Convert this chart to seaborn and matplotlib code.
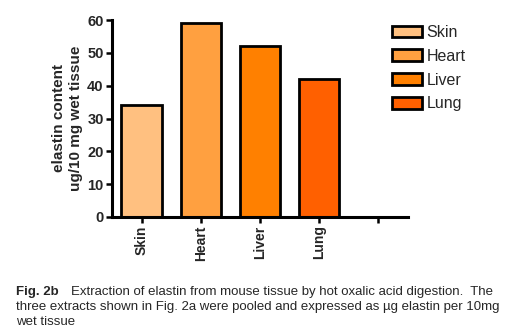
import matplotlib
matplotlib.use("Agg")
import matplotlib.pyplot as plt
import seaborn as sns
import pandas as pd
from matplotlib.patches import Patch

categories = ["Skin", "Heart", "Liver", "Lung"]
values = [34.2, 59.0, 52.0, 42.1]
colors = ["#FFC080", "#FFA040", "#FF8000", "#FF6000"]
xtick_labels = ["Skin", "Heart", "Liver", "Lung", ""]
yticks = [0, 10, 20, 30, 40, 50, 60]

sns.set_style("white")
plt.rcParams['font.family'] = ['Liberation Sans', 'DejaVu Sans']

df = pd.DataFrame({"tissue": categories, "elastin": values})

W, H = 508, 333
fig = plt.figure(figsize=(W / 100, H / 100), dpi=100)
ax = fig.add_axes([112 / W, 1 - 217 / H, (408 - 112) / W, (217 - 20) / H])

sns.barplot(data=df, x="tissue", y="elastin", hue="tissue", order=categories,
            hue_order=categories, palette=colors, dodge=False, width=0.68,
            saturation=1, edgecolor="black", linewidth=2.0, legend=False, ax=ax)

ax.set_xlim(-0.5, 4.5)
ax.set_ylim(0, 60)
ax.set_xticks(range(len(xtick_labels)))
ax.set_xticklabels(xtick_labels, rotation=90, fontsize=10, fontweight="bold")
ax.set_yticks(yticks)
ax.set_yticklabels([str(v) for v in yticks], fontsize=10.5, fontweight="bold")
ax.set_xlabel("")
ax.set_ylabel("elastin content\nug/10 mg wet tissue", fontsize=11, fontweight="bold",
              labelpad=3, linespacing=1.25)

for side in ["top", "right"]:
    ax.spines[side].set_visible(False)
for side in ["left", "bottom"]:
    ax.spines[side].set_linewidth(2.2)
    ax.spines[side].set_color("black")
ax.tick_params(axis="both", which="both", direction="out", length=4, width=1.8,
               color="black", pad=2, left=True, bottom=True)

handles = [Patch(facecolor=c, edgecolor="black", linewidth=2.0, label=l)
           for c, l in zip(colors, categories)]
fig.legend(handles=handles, loc="upper left", bbox_to_anchor=(392 / W, 1 - 25 / H),
           frameon=False, fontsize=11.5, handlelength=1.9, handleheight=0.75,
           handletextpad=0.25, labelspacing=0.55, borderpad=0, borderaxespad=0)

fs = 9.5
fig.text(16 / W, 1 - 295 / H, "Fig. 2b", fontsize=fs, fontweight="bold", ha="left", va="baseline")
fig.text(71 / W, 1 - 295 / H, "Extraction of elastin from mouse tissue by hot oxalic acid digestion.  The",
         fontsize=fs, ha="left", va="baseline")
fig.text(16 / W, 1 - 310 / H,
         "three extracts shown in Fig. 2a were pooled and expressed as \u00b5g elastin per 10mg",
         fontsize=fs, ha="left", va="baseline")
fig.text(16 / W, 1 - 325 / H, "wet tissue", fontsize=fs, ha="left", va="baseline")

fig.savefig("out.png", dpi=100, facecolor="white")
